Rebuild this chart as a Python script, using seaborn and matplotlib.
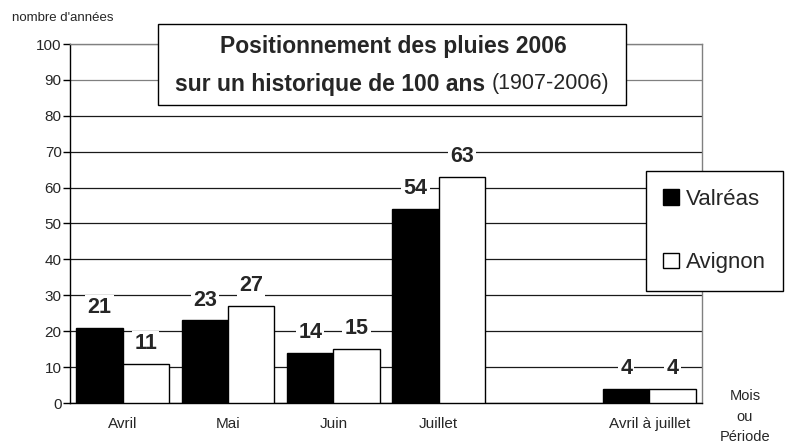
import matplotlib
matplotlib.use("Agg")
import matplotlib.pyplot as plt
import seaborn as sns
import pandas as pd
from matplotlib.patches import Rectangle

categories = ["Avril", "Mai", "Juin", "Juillet", "", "Avril à juillet"]
valreas = [21, 23, 14, 54, None, 4]
avignon = [11, 27, 15, 63, None, 4]
series_names = ["Valréas", "Avignon"]
yticks = list(range(0, 101, 10))

rows = []
for c, v in zip(categories, valreas):
    if v is not None:
        rows.append({"cat": c, "serie": series_names[0], "val": v})
for c, v in zip(categories, avignon):
    if v is not None:
        rows.append({"cat": c, "serie": series_names[1], "val": v})
df = pd.DataFrame(rows)

sns.set_style("white")
plt.rcParams["font.family"] = ["Liberation Sans", "DejaVu Sans"]

fig = plt.figure(figsize=(7.86, 4.48), dpi=100)
ax = fig.add_axes([70 / 786, 1 - 403 / 448, 632 / 786, 359 / 448])

sns.barplot(data=df, x="cat", y="val", hue="serie", order=categories,
            hue_order=series_names, palette={"Valréas": "black", "Avignon": "white"},
            edgecolor="black", linewidth=1, width=0.88, ax=ax, zorder=3)

ax.set_ylim(0, 100)
ax.set_xlim(-0.5, len(categories) - 0.5)
ax.set_yticks(yticks)
ax.set_yticklabels([str(t) for t in yticks], fontsize=11)
ax.set_xticks(range(len(categories)))
ax.set_xticklabels(categories, fontsize=11)
ax.set_xticks([i - 0.5 for i in range(len(categories) + 1)], minor=True)
ax.tick_params(axis="x", which="major", length=0, pad=10)
ax.tick_params(axis="x", which="minor", length=6, width=1, color="black", direction="out")
ax.tick_params(axis="y", length=5, width=1, color="black", direction="out", left=True, pad=1)
ax.set_xlabel("")
ax.set_ylabel("")

ax.yaxis.grid(True, color="#1a1a1a", linewidth=0.9, zorder=0)
ax.set_axisbelow(True)
for i, gl in enumerate(ax.get_ygridlines()):
    if i >= 9:
        gl.set_color("#808080")

for side in ["left", "bottom"]:
    ax.spines[side].set_color("black")
    ax.spines[side].set_linewidth(1)
for side in ["top", "right"]:
    ax.spines[side].set_color("#808080")
    ax.spines[side].set_linewidth(1)
    ax.spines[side].set_visible(True)

for cont in ax.containers:
    ax.bar_label(cont, padding=7, fontsize=15.5, fontweight="bold",
                 bbox=dict(facecolor="white", edgecolor="none", pad=1.5), zorder=4)

leg = ax.get_legend()
if leg is not None:
    leg.remove()
handles = [Rectangle((0, 0), 1, 1, facecolor="black", edgecolor="black"),
           Rectangle((0, 0), 1, 1, facecolor="white", edgecolor="black")]
lg = fig.legend(handles, series_names, loc="center",
                bbox_to_anchor=(714.5 / 786, 1 - 231 / 448),
                bbox_transform=fig.transFigure, fontsize=16,
                frameon=True, fancybox=False, framealpha=1, edgecolor="black",
                handlelength=0.7, handleheight=0.7, handletextpad=0.3,
                labelspacing=1.9, borderpad=0.8, borderaxespad=0)
lg.get_frame().set_linewidth(1)

# Title box
fig.patches.append(Rectangle((158 / 786, 1 - 105 / 448), 468 / 786, 81 / 448,
                             transform=fig.transFigure, facecolor="white",
                             edgecolor="black", linewidth=1, zorder=5))
fig.text(393 / 786, 1 - 47 / 448, "Positionnement des pluies 2006", ha="center",
         va="center", fontsize=16.5, fontweight="bold", zorder=6)
t_bold = fig.text(0, 1 - 84 / 448, "sur un historique de 100 ans ", ha="left",
                  va="center", fontsize=16.5, fontweight="bold", zorder=6)
t_norm = fig.text(0, 1 - 84 / 448, "(1907-2006)", ha="left",
                  va="center", fontsize=15.5, zorder=6)
fig.canvas.draw()
r = fig.canvas.get_renderer()
wb = t_bold.get_window_extent(r).width
wn = t_norm.get_window_extent(r).width
total = wb + wn
x0 = 392.5 - total / 2
t_bold.set_x(x0 / 786)
t_norm.set_x((x0 + wb) / 786)

fig.text(12 / 786, 1 - 18 / 448, "nombre d'années", ha="left", va="center", fontsize=9.5)
fig.text(745 / 786, 1 - 389 / 448, "Mois\nou\nPériode", ha="center", va="top",
         fontsize=10.5, linespacing=1.6)

fig.savefig("out.png", dpi=100)
